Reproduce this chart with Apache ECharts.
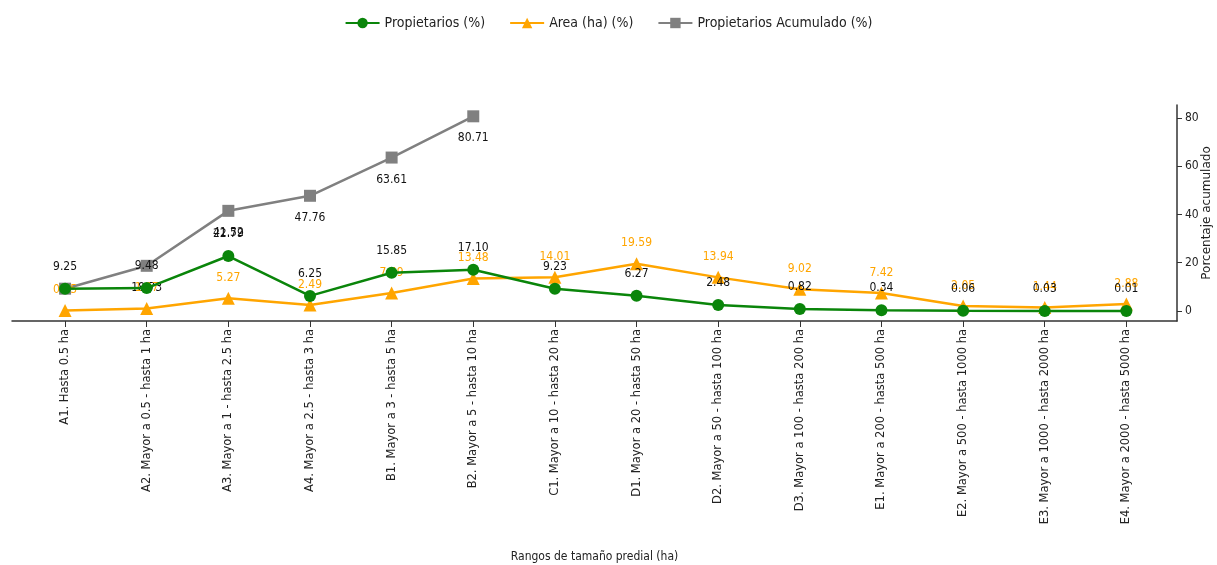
<!DOCTYPE html>
<html>
<head>
<meta charset="utf-8">
<script src="https://cdn.jsdelivr.net/npm/echarts@6/dist/echarts.min.js"></script>
<style>
  html, body { margin: 0; padding: 0; background: #fff; }
  #chart { width: 1217px; height: 565px; }
</style>
</head>
<body>
<div id="chart"></div>
<script>
// rangos de tamaño predial
var categorias = [
  'A1. Hasta 0.5 ha',
  'A2. Mayor a 0.5 - hasta 1 ha',
  'A3. Mayor a 1 - hasta 2.5 ha',
  'A4. Mayor a 2.5 - hasta 3 ha',
  'B1. Mayor a 3 - hasta 5 ha',
  'B2. Mayor a 5 - hasta 10 ha',
  'C1. Mayor a 10 - hasta 20 ha',
  'D1. Mayor a 20 - hasta 50 ha',
  'D2. Mayor a 50 - hasta 100 ha',
  'D3. Mayor a 100 - hasta 200 ha',
  'E1. Mayor a 200 - hasta 500 ha',
  'E2. Mayor a 500 - hasta 1000 ha',
  'E3. Mayor a 1000 - hasta 2000 ha',
  'E4. Mayor a 2000 - hasta 5000 ha'
];
var propietarios = [9.25, 9.48, 22.79, 6.25, 15.85, 17.10, 9.23, 6.27, 2.48, 0.82, 0.34, 0.06, 0.03, 0.01];
var area = [0.25, 1.07, 5.27, 2.49, 7.49, 13.48, 14.01, 19.59, 13.94, 9.02, 7.42, 2.05, 1.44, 2.88];
var acumulado = [9.25, 18.73, 41.52, 47.76, 63.61, 80.71];
var ticksY = [0, 20, 40, 60, 80];

var fuente = "'Liberation Sans Narrow', 'DejaVu Sans Condensed', 'Liberation Sans', sans-serif";

function pares(arr) {
  return arr.map(function (v, i) { return [i, v]; });
}

var dom = document.getElementById('chart');
var myChart = echarts.init(dom);

var datosAcum = pares(acumulado);
datosAcum[0] = { value: datosAcum[0], label: { show: false } };

var option = {
  animation: false,
  textStyle: { fontFamily: fuente },
  legend: {
    top: 11,
    left: 'center',
    itemWidth: 34,
    itemHeight: 13,
    itemGap: 24,
    textStyle: { fontFamily: fuente, fontSize: 14, color: '#222' },
    data: ['Propietarios (%)', 'Area (ha) (%)', 'Propietarios Acumulado (%)']
  },
  grid: { left: 12, right: 40, top: 105, bottom: 244, outerBoundsMode: 'none', containLabel: false },
  xAxis: {
    type: 'value',
    min: -0.65,
    max: 13.62,
    name: 'Rangos de tamaño predial (ha)',
    nameLocation: 'middle',
    nameGap: 230,
    nameMoveOverlap: false,
    nameTextStyle: { fontFamily: fuente, fontSize: 12, color: '#222' },
    splitLine: { show: false },
    axisLine: { onZero: false, lineStyle: { color: '#333', width: 1.5 } },
    axisTick: { show: true, length: 6, customValues: categorias.map(function (c, i) { return i; }), lineStyle: { color: '#333' } },
    axisLabel: {
      customValues: categorias.map(function (c, i) { return i; }),
      rotate: 90,
      margin: 8,
      fontFamily: 'DejaVu Sans',
      fontSize: 11.5,
      color: '#222',
      formatter: function (v) { return categorias[Math.round(v)]; }
    }
  },
  yAxis: {
    type: 'value',
    position: 'right',
    min: -4.15,
    max: 85.4,
    name: 'Porcentaje acumulado',
    nameLocation: 'middle',
    nameGap: 24,
    nameMoveOverlap: false,
    nameRotate: 90,
    nameTextStyle: { fontFamily: 'DejaVu Sans', fontSize: 12, color: '#222' },
    splitLine: { show: false },
    axisLine: { show: true, onZero: false, lineStyle: { color: '#333', width: 1.5 } },
    axisTick: { show: true, length: 5, customValues: ticksY, lineStyle: { color: '#333' } },
    axisLabel: { customValues: ticksY, margin: 8, fontFamily: fuente, fontSize: 12, color: '#222' }
  },
  series: [
    {
      name: 'Propietarios (%)',
      type: 'line',
      data: pares(propietarios),
      symbol: 'circle',
      symbolSize: 12,
      z: 3,
      itemStyle: { color: '#0a850a' },
      lineStyle: { color: '#0a850a', width: 2.5 },
      label: { show: true, position: 'top', distance: 10, color: '#111', fontSize: 12, fontFamily: fuente,
        formatter: function (p) { return p.value[1].toFixed(2); } }
    },
    {
      name: 'Area (ha) (%)',
      type: 'line',
      data: pares(area),
      symbol: 'triangle',
      symbolSize: 13,
      z: 2,
      itemStyle: { color: '#ffa500' },
      lineStyle: { color: '#ffa500', width: 2.5 },
      label: { show: true, position: 'top', distance: 8, color: '#ffa500', fontSize: 12, fontFamily: fuente,
        formatter: function (p) { return p.value[1].toFixed(2); } }
    },
    {
      name: 'Propietarios Acumulado (%)',
      type: 'line',
      data: datosAcum,
      symbol: 'rect',
      symbolSize: 12,
      z: 1,
      itemStyle: { color: '#808080' },
      lineStyle: { color: '#808080', width: 2.5 },
      label: { show: true, position: 'bottom', distance: 10, color: '#111', fontSize: 12, fontFamily: fuente,
        formatter: function (p) { return p.value[1].toFixed(2); } }
    }
  ]
};

myChart.setOption(option);
</script>
</body>
</html>
